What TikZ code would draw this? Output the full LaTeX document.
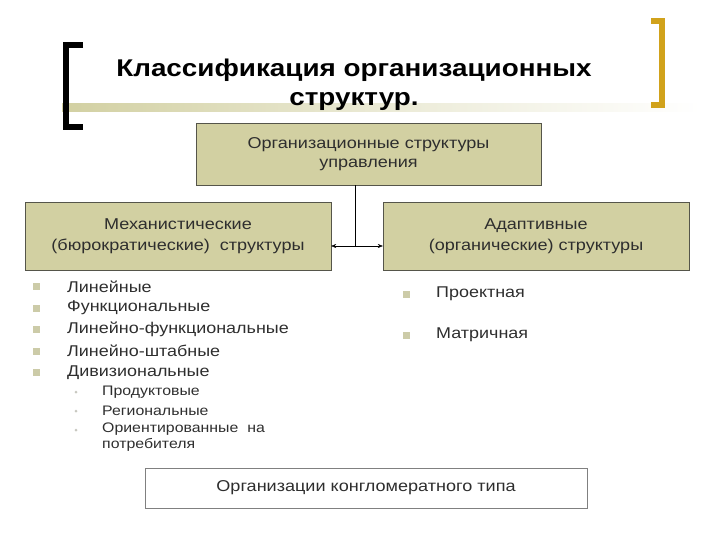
\documentclass[tikz,border=0pt]{standalone}
\usepackage{fontspec}
\setmainfont[FakeStretch=1.15]{Liberation Sans}
\usetikzlibrary{arrows.meta}
\definecolor{khaki}{HTML}{D2D0A2}
\definecolor{boxline}{HTML}{55554A}
\definecolor{gold}{HTML}{D1A21B}
\definecolor{bulletc}{HTML}{CCCBA8}
\definecolor{dotc}{HTML}{C8C8C0}
\definecolor{txt}{HTML}{2E2E2E}
\begin{document}
\begin{tikzpicture}[x=1pt,y=-1pt,
  kbox/.style={draw=boxline,fill=khaki,align=center,text=txt,inner sep=0pt,
    font=\fontsize{15.7}{21.5}\selectfont},
  wbox/.style={draw=gray,fill=white,align=center,text=txt,inner sep=0pt,
    font=\fontsize{15.7}{21}\selectfont},
  item/.style={anchor=west,text=txt,inner sep=0pt,font=\fontsize{15.6}{18}\selectfont},
  subitem/.style={anchor=west,text=txt,inner sep=0pt,align=left,font=\fontsize{13.8}{15.5}\selectfont},
  sq/.style={fill=bulletc,minimum size=7pt,inner sep=0pt},
  dot/.style={circle,fill=dotc,minimum size=3pt,inner sep=0pt}]
 \useasboundingbox (0,0) rectangle (720,540);
 % brackets and band
 \shade[left color=khaki,right color=white,middle color=khaki!45] (62,104) rectangle (700,112);
 \draw[line width=6pt] (83,45) -- (66,45) -- (66,127) -- (83,127);
 \draw[gold,line width=6pt] (651,21) -- (662,21) -- (662,105) -- (651,105);
 \node[font=\bfseries\fontsize{24.2}{29}\selectfont,align=center] (title) at (354,85)
  {Классификация организационных\\структур.};
 % boxes
 \node[kbox,minimum width=345pt,minimum height=62pt] (top) at (368.5,154)
  {\raisebox{-2pt}{Организационные структуры}\\управления};
 \node[kbox,minimum width=306pt,minimum height=68pt] (mech) at (178,236)
  {Механистические\\(бюрократические)\ \ структуры};
 \node[kbox,minimum width=306pt,minimum height=68pt] (adapt) at (536,236)
  {Адаптивные\\(органические) структуры};
 \node[wbox,minimum width=442pt,minimum height=40pt] (cong) at (366,488)
  {\raisebox{-3pt}{Организации конгломератного типа}};
 % connectors
 \coordinate (join) at (355,246);
 \draw (join |- top.south) -- (join);
 \draw[{Stealth[length=5pt,width=4pt]}-{Stealth[length=5pt,width=4pt]}] (mech.east |- join) -- (adapt.west |- join);
 % left list
 \foreach \t [count=\i] in {Линейные,Функциональные,Линейно-функциональные,Линейно-штабные,Дивизиональные}
 {
  \node[sq] (lb\i) at (36,265+21.5*\i) {};
  \node[item] (li\i) at (67,265+21.5*\i) {\t};
 }
 \node[dot] (sb1) at (76,392) {};
 \node[subitem] (si1) at (102,392) {Продуктовые};
 \node[dot] (sb2) at (76,411) {};
 \node[subitem] (si2) at (102,411) {Региональные};
 \node[dot] (sb3) at (76,430) {};
 \node[subitem,anchor=north west] (si3) at (102,423) {Ориентированные\ \ на\\потребителя};
 % right list
 \node[sq] (rb1) at (406,294) {};
 \node[item] (ri1) at (436,294) {Проектная};
 \node[sq] (rb2) at (406,335) {};
 \node[item] (ri2) at (436,335) {Матричная};
\end{tikzpicture}
\end{document}
